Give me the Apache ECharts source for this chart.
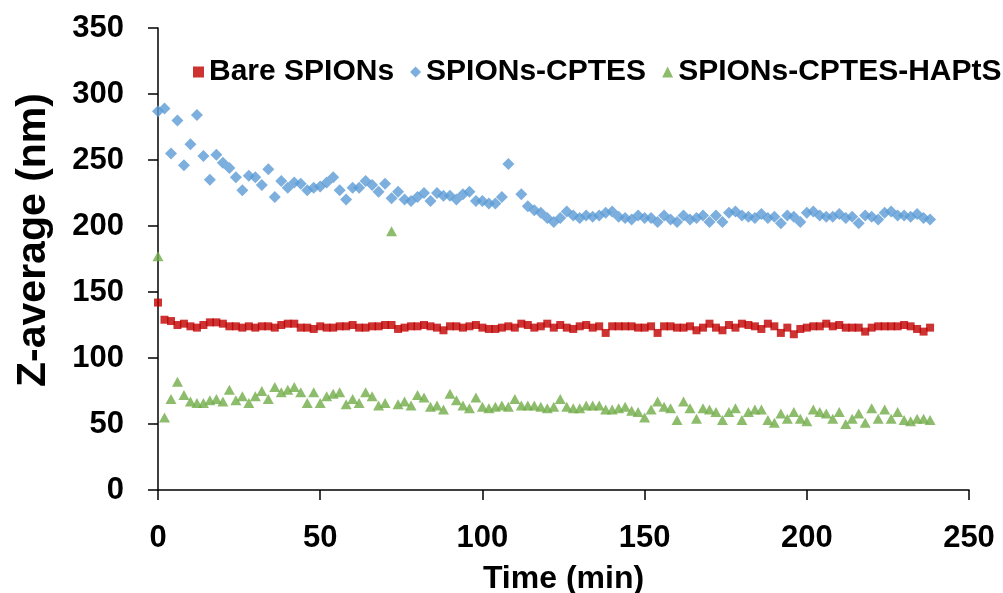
<!DOCTYPE html>
<html>
<head>
<meta charset="utf-8">
<script src="https://cdn.jsdelivr.net/npm/echarts@6/dist/echarts.min.js"></script>
<style>
html,body{margin:0;padding:0;background:#fff;overflow:hidden;}
#c{width:1003px;height:593px;}
</style>
</head>
<body>
<div id="c"></div>
<script>
const times = [
  0,2,4,6,8,10,12,14,16,18,
  20,22,24,26,28,30,32,34,36,38,
  40,42,44,46,48,50,52,54,56,58,
  60,62,64,66,68,70,72,74,76,78,
  80,82,84,86,88,90,92,94,96,98,
  100,102,104,106,108,110,112,114,116,118,
  120,122,124,126,128,130,132,134,136,138,
  140,142,144,146,148,150,152,154,156,158,
  160,162,164,166,168,170,172,174,176,178,
  180,182,184,186,188,190,192,194,196,198,
  200,202,204,206,208,210,212,214,216,218,
  220,222,224,226,228,230,232,234,236,238
];
const bareSPIONs = [
  142,129,128,125,126,124,123,125,127,127,
  126,124,124,123,124,123,124,124,123,125,
  126,126,123,123,122,124,123,123,124,124,
  125,123,123,124,124,125,125,122,123,124,
  124,125,124,123,121,124,124,123,124,125,
  123,122,122,123,124,123,126,125,123,124,
  126,123,125,123,122,124,125,123,124,119,
  124,124,124,124,123,123,124,119,124,124,
  123,123,124,121,123,126,123,121,125,123,
  126,125,124,122,126,124,119,123,118,122,
  123,124,124,126,124,125,123,123,123,120,
  123,124,124,124,124,125,124,122,120,123
];
const spionsCPTES = [
  287,289,255,280,246,262,284,253,235,254,
  248,244,237,227,238,237,231,243,222,234,
  229,233,232,227,229,230,233,237,227,220,
  229,229,234,231,226,232,221,226,220,219,
  222,225,219,225,223,223,220,224,226,219,
  219,217,217,222,247,null,224,215,212,210,
  206,203,206,211,208,206,208,207,208,210,
  211,207,206,205,208,206,206,203,208,205,
  203,208,205,206,208,203,208,203,210,211,
  208,207,206,209,206,207,202,208,207,203,
  210,211,208,207,207,209,206,207,202,208,
  207,205,210,211,208,208,207,209,206,205
];
const spionsCPTESHAPtS = [
  177,55,69,82,72,67,66,66,68,69,
  67,76,68,71,66,71,75,69,78,74,
  76,78,74,66,74,66,71,73,74,65,
  69,66,74,71,64,66,196,65,67,64,
  72,70,63,64,61,73,68,64,62,70,
  63,62,63,64,63,69,64,64,64,63,
  62,63,69,63,62,62,64,64,64,61,
  61,62,63,60,59,55,61,67,63,62,
  53,67,62,54,62,61,59,53,59,62,
  53,59,61,61,53,51,58,54,59,54,
  52,61,59,58,54,59,50,54,58,51,
  62,54,61,54,59,53,52,54,54,53
];
const seriesNames = ['Bare SPIONs','SPIONs-CPTES','SPIONs-CPTES-HAPtS'];
const xTicks = {min:0, max:250, interval:50};
const yTicks = {min:0, max:350, interval:50};

function pairs(vals){
  const out = [];
  for (let i = 0; i < times.length; i++) {
    if (vals[i] !== null && vals[i] !== undefined) out.push([times[i], vals[i]]);
  }
  return out;
}

const FONT = "'Liberation Sans',Arial,sans-serif";
const chart = echarts.init(document.getElementById('c'), null, {renderer:'canvas'});
chart.setOption({
  animation:false,
  backgroundColor:'#ffffff',
  textStyle:{fontFamily:FONT, fontWeight:'bold', color:'#000'},
  grid:{left:158, right:34, top:28, bottom:103, containLabel:false, outerBoundsMode:'none'},
  legend:{
    left:188, top:52, width:830, itemWidth:11, itemHeight:11, itemGap:16,
    textStyle:{fontFamily:FONT, fontWeight:'bold', fontSize:30, color:'#000'},
    data:[
      {name:seriesNames[0], icon:'rect'},
      {name:seriesNames[1], icon:'diamond'},
      {name:seriesNames[2], icon:'triangle'}
    ]
  },
  xAxis:{
    type:'value', min:xTicks.min, max:xTicks.max, interval:xTicks.interval,
    name:'Time (min)', nameLocation:'middle', nameGap:73,
    nameTextStyle:{fontFamily:FONT, fontWeight:'bold', fontSize:32, color:'#000'},
    axisLine:{show:true, onZero:false, lineStyle:{color:'#000', width:1.5}},
    axisTick:{show:true, inside:false, length:10, lineStyle:{color:'#000', width:1.5}},
    axisLabel:{fontFamily:FONT, fontWeight:'bold', fontSize:31, color:'#000', margin:33},
    splitLine:{show:false}
  },
  yAxis:{
    type:'value', min:yTicks.min, max:yTicks.max, interval:yTicks.interval,
    name:'Z-average (nm)', nameLocation:'middle', nameGap:104, nameRotate:90,
    nameTextStyle:{fontFamily:FONT, fontWeight:'bold', fontSize:41, color:'#000', padding:[0,0,0,38]},
    axisLine:{show:true, onZero:false, lineStyle:{color:'#000', width:1.5}},
    axisTick:{show:true, inside:false, length:10, lineStyle:{color:'#000', width:1.5}},
    axisLabel:{fontFamily:FONT, fontWeight:'bold', fontSize:31, color:'#000', margin:34},
    splitLine:{show:false}
  },
  series:[
    {name:seriesNames[0], type:'scatter', symbol:'rect', symbolSize:8,
     itemStyle:{color:'#C00000'}, data:pairs(bareSPIONs)},
    {name:seriesNames[1], type:'scatter', symbol:'diamond', symbolSize:[12,12],
     itemStyle:{color:'#5B9BD5'}, data:pairs(spionsCPTES)},
    {name:seriesNames[2], type:'scatter', symbol:'triangle', symbolSize:[11,10],
     itemStyle:{color:'#70AD47'}, data:pairs(spionsCPTESHAPtS)}
  ]
});
</script>
</body>
</html>
